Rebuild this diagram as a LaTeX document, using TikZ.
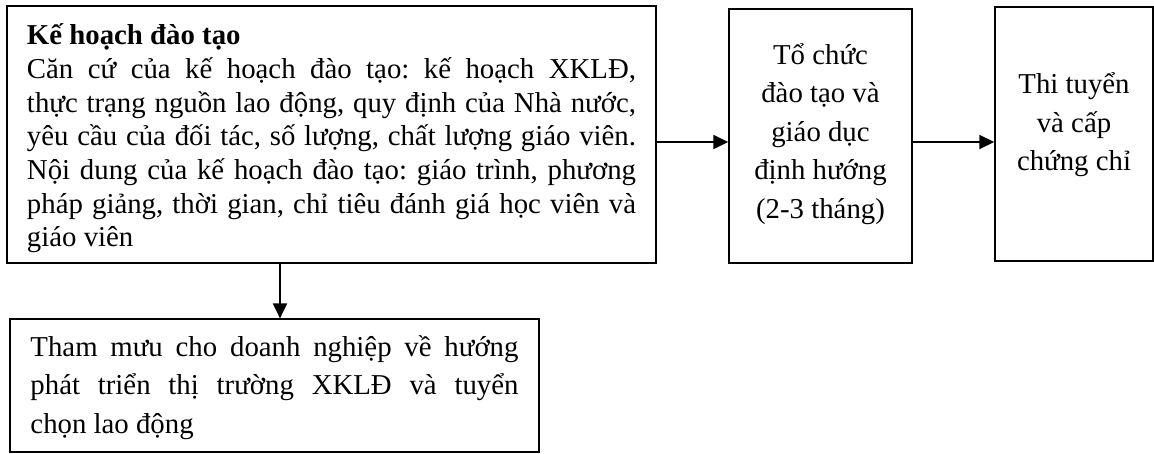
\documentclass[tikz,border=0pt]{standalone}
\usepackage{fontspec}
\setmainfont{Liberation Serif}
\usetikzlibrary{arrows.meta}
\newcommand\jl[2]{\hbox to #1{#2}}
\newcommand\wsp{\frenchspacing\spaceskip=0.25em plus 0.6em minus 0.12em\relax}
\tikzset{
  box/.style={draw, line width=1.5pt, rectangle, inner sep=0pt},
  arr/.style={line width=2pt, -{Triangle[length=15pt,width=14pt]}},
  bigfont/.style={font=\fontsize{28.8}{33.7}\selectfont\wsp},
  tallfont/.style={font=\fontsize{28.8}{38.5}\selectfont\wsp}
}
\begin{document}
\begin{tikzpicture}[x=1pt,y=-1pt]
\useasboundingbox (0,0) rectangle (1154,453);
\node[box, bigfont, minimum width=649pt, minimum height=257pt, text height=120.4pt, text depth=100pt] (b1) at (331.5,134.5)
  {\parbox[c]{609pt}{%
   \jl{609pt}{\textbf{Kế hoạch đào tạo}\hfil}
   \jl{609pt}{Căn cứ của kế hoạch đào tạo: kế hoạch XKLĐ,}
   \jl{609pt}{thực trạng nguồn lao động, quy định của Nhà nước,}
   \jl{609pt}{yêu cầu của đối tác, số lượng, chất lượng giáo viên.}
   \jl{609pt}{Nội dung của kế hoạch đào tạo: giáo trình, phương}
   \jl{609pt}{pháp giảng, thời gian, chỉ tiêu đánh giá học viên và}
   \jl{609pt}{giáo viên\hfil}}};
\node[box, tallfont, minimum width=183pt, minimum height=254pt, text height=108.4pt, text depth=100pt] (b2) at (820.5,136)
  {\parbox[c]{180pt}{\centering Tổ chức\\đào tạo và\\giáo dục\\định hướng\\(2-3 tháng)}};
\node[box, tallfont, minimum width=158pt, minimum height=254pt, text height=94.4pt, text depth=100pt] (b3) at (1074,134)
  {\parbox[c]{155pt}{\centering Thi tuyển\\và cấp\\chứng chỉ}};
\node[box, tallfont, line width=1.2pt, minimum width=529pt, minimum height=133pt, text height=66.4pt, text depth=50pt] (b4) at (274.5,385.5)
  {\parbox[c]{488pt}{%
   \jl{488pt}{Tham mưu cho doanh nghiệp về hướng}
   \jl{488pt}{phát triển thị trường XKLĐ và tuyển}
   \jl{488pt}{chọn lao động\hfil}}};
\draw[arr] (b1.east |- 0,142) -- (b2.west |- 0,142);
\draw[arr] (b2.east |- 0,142) -- (b3.west |- 0,142);
\draw[arr] (b1.south -| 280,0) -- (b4.north -| 280,0);
\end{tikzpicture}
\end{document}
